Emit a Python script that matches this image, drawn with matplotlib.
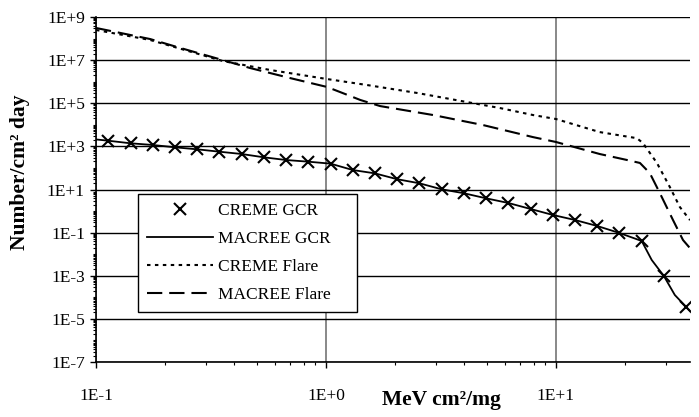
import matplotlib
matplotlib.use("Agg")
import matplotlib.pyplot as plt
from matplotlib.ticker import LogLocator, NullFormatter, FixedLocator, FixedFormatter

plt.rcParams["font.family"] = ["Liberation Serif", "DejaVu Serif"]
plt.rcParams["font.size"] = 12.5
plt.rcParams["lines.scale_dashes"] = False

# CREME GCR (markers only)
creme_gcr_x = [0.1131, 0.1413, 0.1765, 0.2205, 0.2754, 0.344, 0.4298, 0.537, 0.671,
               0.8381, 1.047, 1.308, 1.634, 2.041, 2.551, 3.186, 3.98, 4.972, 6.211,
               7.759, 9.694, 12.11, 15.13, 18.9, 23.61, 29.49, 36.84]
creme_gcr_y = [1830, 1390, 1160, 906, 731, 566, 443, 311, 233, 195, 158, 80, 56, 30,
               19.4, 10.2, 6.7, 3.9, 2.37, 1.25, 0.66, 0.385, 0.203, 0.096, 0.041,
               9.7e-4, 3.6e-5]

# MACREE GCR (solid line)
macree_gcr_x = [0.1, 0.1131, 0.1413, 0.1765, 0.2205, 0.2754, 0.344, 0.4298, 0.537, 0.671,
                0.8381, 1.047, 1.308, 1.634, 2.041, 2.551, 3.186, 3.98, 4.972, 6.211,
                7.759, 9.694, 12.11, 15.13, 18.9, 23.61, 26.1, 29.49, 32.9, 36.84, 38.3]
macree_gcr_y = [2100, 1830, 1390, 1160, 906, 731, 566, 443, 311, 233, 195, 158, 80, 56,
                30, 19.4, 10.2, 6.7, 3.9, 2.37, 1.25, 0.66, 0.385, 0.203, 0.096, 0.041,
                0.0054, 9.7e-4, 1.28e-4, 3.6e-5, 2.3e-5]

# CREME Flare (dotted)
creme_flare_x = [0.1, 0.172, 0.356, 0.571, 1.01, 1.51, 2.49, 4.10, 5.71, 7.94, 10.0,
                 15.5, 22.5, 23.9, 27.5, 31.3, 34.6, 38.3]
creme_flare_y = [2.5e8, 8.6e7, 9.1e6, 3.5e6, 1.33e6, 7.0e5, 3.0e5, 1.14e5, 6.0e4,
                 2.85e4, 1.86e4, 4.6e3, 2.4e3, 1.43e3, 170, 13, 1.54, 0.38]

# MACREE Flare (dashed)
macree_flare_x = [0.1, 0.172, 0.225, 0.356, 0.468, 0.697, 1.01, 1.21, 1.41, 1.72, 2.92,
                  4.81, 7.94, 10.0, 15.5, 20.4, 23.2, 25.6, 28.3, 32.3, 35.7, 38.3]
macree_flare_y = [3.1e8, 9.5e7, 4.06e7, 1.0e7, 4.3e6, 1.48e6, 5.7e5, 2.7e5, 1.42e5,
                  7.4e4, 2.85e4, 9.8e3, 2.7e3, 1.6e3, 443, 233, 170, 58, 6.9, 0.385,
                  0.0455, 0.019]

y_ticks = [1e-7, 1e-5, 1e-3, 1e-1, 1e1, 1e3, 1e5, 1e7, 1e9]
y_tick_labels = ["1E-7", "1E-5", "1E-3", "1E-1", "1E+1", "1E+3", "1E+5", "1E+7", "1E+9"]
x_ticks = [0.1, 1, 10]
x_tick_labels = ["1E-1", "1E+0", "1E+1"]

fig = plt.figure(figsize=(6.99, 4.17), dpi=100)
ax = fig.add_axes([96 / 699, 55 / 417, 594 / 699, 345 / 417])

ax.plot(creme_gcr_x, creme_gcr_y, linestyle="none", marker="x", color="black",
        markersize=8, markeredgewidth=1.5, label="CREME GCR    ", zorder=4)
ax.plot(macree_gcr_x, macree_gcr_y, color="black", lw=1.3, label="MACREE GCR", zorder=3)
ax.plot(creme_flare_x, creme_flare_y, color="black", lw=1.5, dashes=(2.5, 3.2),
        label="CREME Flare", zorder=3)
ax.plot(macree_flare_x, macree_flare_y, color="black", lw=1.5, dashes=(11, 5),
        label="MACREE Flare    ", zorder=3)

ax.set_xscale("log")
ax.set_yscale("log")
ax.set_xlim(0.1, 38.3)
ax.set_ylim(1e-7, 1e9)

ax.yaxis.set_major_locator(FixedLocator(y_ticks))
ax.yaxis.set_major_formatter(FixedFormatter(y_tick_labels))
ax.yaxis.set_minor_locator(LogLocator(base=10, subs=range(1, 10), numticks=40))
ax.yaxis.set_minor_formatter(NullFormatter())
ax.xaxis.set_major_locator(FixedLocator(x_ticks))
ax.xaxis.set_major_formatter(FixedFormatter(x_tick_labels))
ax.xaxis.set_minor_locator(LogLocator(base=10, subs=range(2, 10), numticks=20))
ax.xaxis.set_minor_formatter(NullFormatter())

ax.tick_params(which="major", direction="out", length=4.5, width=1.0, labelsize=12.5)
ax.tick_params(axis="x", which="major", pad=14)
ax.tick_params(which="minor", direction="out", length=2.5, width=0.8)

ax.grid(axis="y", which="major", color="black", lw=1.0)
ax.grid(axis="x", which="major", color="#7f7f7f", lw=1.3)
ax.set_axisbelow(True)

ax.spines["top"].set_visible(False)
ax.spines["right"].set_visible(False)
ax.spines["left"].set_linewidth(1.2)
ax.spines["bottom"].set_linewidth(1.2)

leg = ax.legend(loc="lower left", bbox_to_anchor=(42 / 594, 50 / 345), frameon=True,
                fancybox=False, edgecolor="black", framealpha=1, borderpad=0.5,
                handlelength=3.8, handletextpad=0.3, labelspacing=0.69, numpoints=1,
                borderaxespad=0, fontsize=12.5)
leg.get_frame().set_linewidth(1.0)

fig.text(441 / 699, 1 - 400 / 417, "MeV cm²/mg", fontweight="bold", fontsize=15.5,
         ha="center", va="center")
fig.text(20 / 699, 1 - 172 / 417, "Number/cm² day", fontweight="bold", fontsize=15.5,
         rotation=90, ha="center", va="center")

fig.savefig("out.png", dpi=100)
